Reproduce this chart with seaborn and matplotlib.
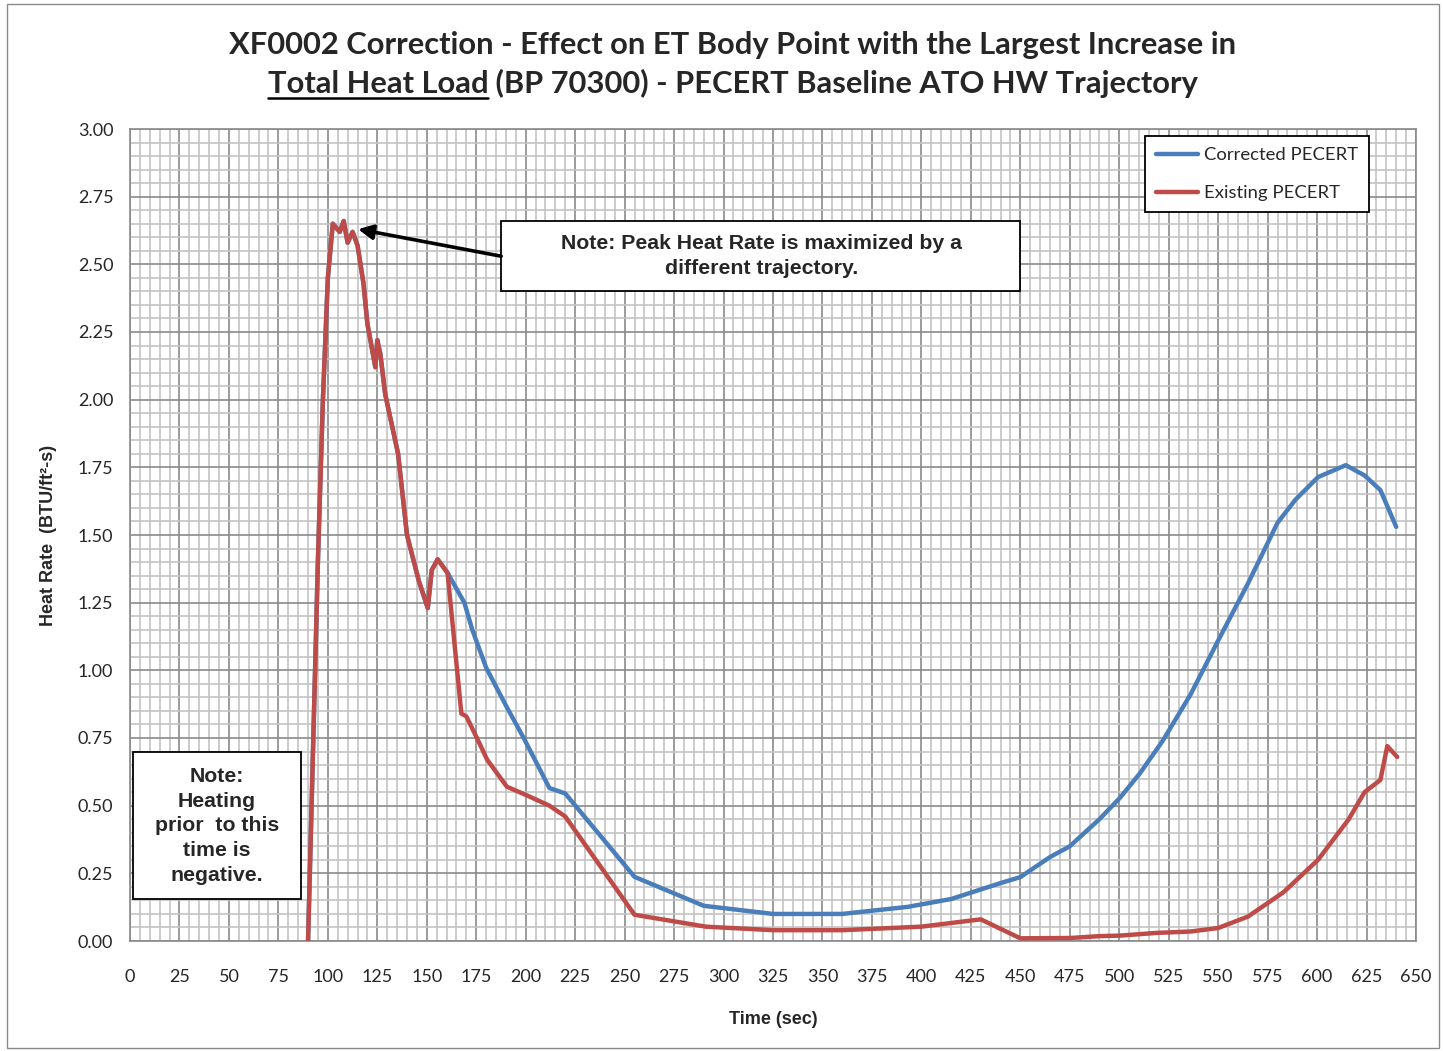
"""Heat rate at ET body point BP 70300: corrected vs existing PECERT."""

import pandas as pd
import seaborn as sns
import matplotlib.pyplot as plt
from matplotlib.lines import Line2D
from matplotlib.patches import Rectangle
from matplotlib.ticker import MultipleLocator

# part of the trajectory where both curves coincide (sec, BTU/ft2-s)
tempo_comum = [90, 95, 97.5, 100, 102.5, 106, 108, 110, 112.5, 115, 118, 120,
               124, 125, 126.5, 129, 135.5, 140, 146, 150.5, 152.5, 155.5, 160.5]
taxa_comum = [0.00, 1.41, 2.00, 2.45, 2.65, 2.62, 2.66, 2.58, 2.62, 2.57, 2.43, 2.28,
              2.12, 2.22, 2.17, 2.02, 1.80, 1.50, 1.33, 1.23, 1.37, 1.41, 1.36]

# Corrected PECERT after the split
tempo_corrigido = [169, 173, 180, 190, 199, 212, 220, 255, 290, 325, 360, 393, 415,
                   440, 450, 465, 475, 490, 500.5, 510.5, 522, 536, 550, 565, 580,
                   589, 600.5, 614.5, 624, 632, 640]
taxa_corrigida = [1.25, 1.15, 1.01, 0.87, 0.75, 0.565, 0.545, 0.237, 0.13, 0.10, 0.10,
                  0.126, 0.155, 0.214, 0.236, 0.31, 0.35, 0.45, 0.53, 0.62, 0.74, 0.91,
                  1.11, 1.32, 1.545, 1.63, 1.714, 1.758, 1.72, 1.666, 1.53]

# Existing PECERT after the split
tempo_existente = [167.5, 170, 176, 180.5, 190.5, 200, 212, 220, 255, 291, 325, 360,
                   400, 430, 450, 475, 490, 500.5, 519, 536, 550, 565, 583, 600.5,
                   616, 624, 632, 635.5, 640.5]
taxa_existente = [0.84, 0.83, 0.74, 0.67, 0.57, 0.54, 0.50, 0.46, 0.097, 0.053, 0.04,
                  0.04, 0.053, 0.08, 0.01, 0.011, 0.018, 0.02, 0.03, 0.035, 0.048,
                  0.09, 0.18, 0.30, 0.45, 0.55, 0.595, 0.72, 0.68]

series = ['Corrected PECERT', 'Existing PECERT']
cores = ['#4A7EBB', '#BE4B48']

titulo_1 = 'XF0002 Correction - Effect on ET Body Point with the Largest Increase in'
titulo_2a = 'Total Heat Load'
titulo_2b = ' (BP 70300) - PECERT Baseline ATO HW Trajectory'

W, H = 1443, 1051


def montar_dataframe():
    df_corr = pd.DataFrame({'t': tempo_comum + tempo_corrigido,
                            'q': taxa_comum + taxa_corrigida,
                            'serie': series[0]})
    df_exist = pd.DataFrame({'t': tempo_comum + tempo_existente,
                             'q': taxa_comum + taxa_existente,
                             'serie': series[1]})
    return pd.concat([df_corr, df_exist], ignore_index=True)


sns.set_style('white')
plt.rcParams['font.family'] = ['Lato', 'DejaVu Sans']

fig = plt.figure(figsize=(W / 100, H / 100), dpi=100)
ax = fig.add_axes([130 / W, 110 / H, 1286 / W, 812 / H])

df = montar_dataframe()
sns.lineplot(data=df, x='t', y='q', hue='serie', hue_order=series,
             palette=cores, sort=False, estimator=None, lw=3.2, ax=ax, zorder=3)

ax.set_xlim(0, 650)
ax.set_ylim(0, 3)
ax.xaxis.set_major_locator(MultipleLocator(25))
ax.xaxis.set_minor_locator(MultipleLocator(5))
ax.yaxis.set_major_locator(MultipleLocator(0.25))
ax.yaxis.set_minor_locator(MultipleLocator(0.05))
ax.yaxis.set_major_formatter(plt.FormatStrFormatter('%.2f'))
ax.set_axisbelow(True)
ax.grid(which='minor', color='#c3c3c3', lw=1.2)
ax.grid(which='major', color='#8a8a8a', lw=1.2)
for s in ax.spines.values():
    s.set_color('#8a8a8a')
    s.set_linewidth(1.2)
ax.tick_params(which='major', direction='out', length=6, width=1.2, color='#8a8a8a',
               labelsize=13, pad=6)
ax.tick_params(axis='x', which='major', pad=14)
ax.tick_params(which='minor', length=0)

ax.set_xlabel('Time (sec)', family='Liberation Sans', fontweight='bold',
              fontsize=13, labelpad=19)
ax.set_ylabel('Heat Rate  (BTU/ft²-s)', family='Liberation Sans', fontweight='bold',
              fontsize=13, labelpad=15)

handles, labels = ax.get_legend_handles_labels()
leg = ax.legend(handles, labels, loc='upper right',
                bbox_to_anchor=(1239 / 1286, 805 / 812), borderaxespad=0,
                fontsize=13.3, handlelength=2.3, handletextpad=0.3, labelspacing=1.2,
                borderpad=0.6, fancybox=False, framealpha=1, edgecolor='black')
leg.get_frame().set_linewidth(1.3)
for ln in leg.get_lines():
    ln.set_linewidth(3.2)

# note on the peak
ax.add_patch(Rectangle((187.6, 2.40), 262.4, 0.26, facecolor='white',
                       edgecolor='black', lw=1.3, zorder=5))
ax.text(319, 2.53, 'Note: Peak Heat Rate is maximized by a\ndifferent trajectory.',
        ha='center', va='center', family='Liberation Sans', fontweight='bold',
        fontsize=15.3, linespacing=1.38, zorder=6)
ax.annotate('', xy=(115.3, 2.63), xytext=(187.6, 2.53),
            arrowprops=dict(arrowstyle='-|>', color='black', lw=2.6,
                            mutation_scale=22, shrinkA=0, shrinkB=0), zorder=6)

# note on negative heating
ax.add_patch(Rectangle((1.5, 0.155), 85, 0.545, facecolor='white',
                       edgecolor='black', lw=1.3, zorder=5))
ax.text(44, 0.425, 'Note:\nHeating\nprior  to this\ntime is\nnegative.',
        ha='center', va='center', family='Liberation Sans', fontweight='bold',
        fontsize=15.3, linespacing=1.38, zorder=6)

# title, second line partly underlined
fig.text(733 / W, 1 - 54 / H, titulo_1, ha='center', va='baseline',
         fontsize=22.2, fontweight='bold')
t2a = fig.text(0, 1 - 93 / H, titulo_2a, ha='left', va='baseline',
               fontsize=22.2, fontweight='bold')
t2b = fig.text(0, 1 - 93 / H, titulo_2b, ha='left', va='baseline',
               fontsize=22.2, fontweight='bold')
fig.canvas.draw()
rend = fig.canvas.get_renderer()
wa = t2a.get_window_extent(rend).width
wb = t2b.get_window_extent(rend).width
x0 = 733 - (wa + wb) / 2
t2a.set_x(x0 / W)
t2b.set_x((x0 + wa) / W)
fig.add_artist(Line2D([x0 / W, (x0 + wa) / W], [1 - 97.5 / H] * 2,
                      color='black', lw=1.8))

# outer chart border
fig.add_artist(Rectangle((7 / W, 3 / H), 1432 / W, 1044 / H, fill=False,
                         edgecolor='#8a8a8a', lw=1.0))

fig.savefig('out.png', dpi=100)
